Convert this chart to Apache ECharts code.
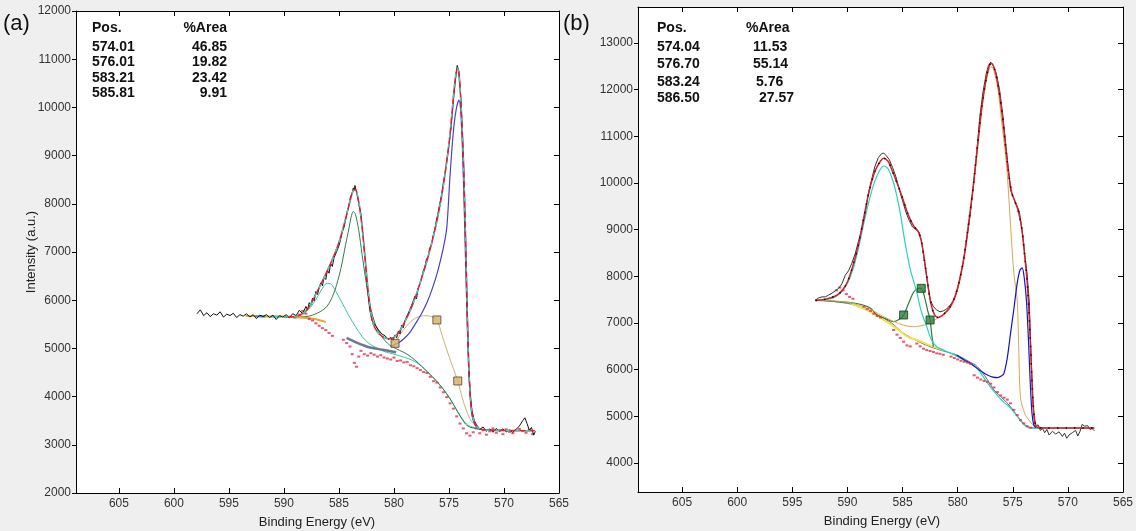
<!DOCTYPE html>
<html><head><meta charset="utf-8">
<script src="https://cdn.jsdelivr.net/npm/echarts@6/dist/echarts.min.js"></script>
<style>html,body{margin:0;padding:0;background:#efefef}#c{width:1136px;height:531px}</style>
</head><body><div id="c"></div>
<script>
// ---------- tick labels ----------
const xTicks = [565,570,575,580,585,590,595,600,605];
const yTicksA = [2000,3000,4000,5000,6000,7000,8000,9000,10000,11000,12000];
const yTicksB = [4000,5000,6000,7000,8000,9000,10000,11000,12000,13000];

// ---------- tables ----------
const posA = ['574.01','576.01','583.21','585.81'];
const areaA = ['46.85','19.82','23.42','9.91'];
const posB = ['574.04','576.70','583.24','586.50'];
const areaB = ['11.53','55.14','5.76','27.57'];

// ---------- panel (a) data [binding energy, intensity] ----------
const rawA = [[597.9,5720],[597.6,5800],[597.3,5680],[597.0,5740],[596.7,5660],[596.4,5720],[596.1,5690],[595.8,5760],[595.5,5650],[595.2,5710],[594.9,5680],[594.6,5730],[594.3,5640],[594.0,5700],[593.7,5670],[593.4,5720],[593.1,5650],[592.8,5700],[592.5,5620],[592.2,5690],[591.9,5660],[591.6,5700],[591.3,5640],[591.0,5690],[590.7,5600],[590.4,5680],[590.1,5650],[589.8,5700],[589.5,5640],[589.2,5720],[588.9,5680],[588.6,5790],[588.3,5720],[588.0,5870],[587.85,5800],[587.7,5950],[587.55,5900],[587.4,6040],[587.25,5990],[587.1,6180],[586.95,6120],[586.8,6260],[586.65,6360],[586.5,6300],[586.35,6480],[586.2,6430],[586.05,6620],[585.9,6560],[585.75,6760],[585.6,6700],[585.45,6880],[585.3,6960],[585.15,6930],[585.0,7130],[584.85,7260],[584.7,7420],[584.55,7500],[584.4,7660],[584.25,7820],[584.1,7960],[583.95,8150],[583.8,8220],[583.7,8330],[583.6,8280],[583.55,8380],[583.4,8230],[583.3,8150],[583.2,8000],[583.0,7780],[582.8,7300],[582.6,6800],[582.4,6200],[582.2,5800],[582.0,5580],[581.7,5480],[581.4,5380],[581.1,5300],[580.8,5260],[580.5,5180],[580.3,5230],[580.1,5150],[579.9,5280],[579.75,5220],[579.6,5360],[579.45,5300],[579.3,5480],[579.15,5430],[579.0,5580],[578.85,5540],[578.7,5730],[578.55,5690],[578.4,5890],[578.25,5850],[578.1,6080],[577.95,6030],[577.8,6250],[577.65,6330],[577.5,6440],[577.35,6600],[577.2,6680],[577.05,6850],[576.9,6900],[576.75,7080],[576.6,7140],[576.45,7330],[576.3,7460],[576.15,7650],[576.0,7800],[575.85,7990],[575.7,8150],[575.55,8380],[575.4,8580],[575.25,8800],[575.1,9050],[574.95,9300],[574.8,9600],[574.6,10150],[574.4,10600],[574.25,10870],[574.1,10750],[573.95,10300],[573.8,9600],[573.65,8700],[573.5,7400],[573.35,5900],[573.2,4600],[573.05,4000],[572.9,3700],[572.7,3500],[572.5,3420],[572.2,3320],[571.9,3370],[571.6,3280],[571.3,3330],[571.0,3260],[570.7,3340],[570.4,3280],[570.1,3330],[569.8,3270],[569.5,3310],[569.2,3260],[568.9,3320],[568.6,3390],[568.3,3500],[568.1,3560],[567.9,3440],[567.7,3300],[567.5,3360],[567.3,3200],[567.15,3280]];
const fitA = [[590,5650],[589,5660],[588.2,5740],[587.6,5900],[587,6170],[586.5,6400],[586,6640],[585.5,6900],[585,7200],[584.5,7600],[584,8050],[583.7,8280],[583.5,8300],[583.3,8150],[583.1,7900],[582.8,7300],[582.5,6550],[582.2,5900],[581.9,5520],[581.5,5340],[581,5240],[580.5,5200],[580,5230],[579.5,5350],[579,5560],[578.5,5800],[578,6100],[577.5,6450],[577,6820],[576.5,7250],[576,7750],[575.5,8400],[575,9250],[574.7,9950],[574.45,10550],[574.25,10820],[574.1,10700],[573.95,10250],[573.8,9550],[573.65,8650],[573.5,7350],[573.35,5850],[573.2,4600],[573.05,3980],[572.9,3650],[572.6,3420],[572.2,3330],[571,3300],[569,3295],[567.2,3290]];
const peakA574 = [[580.3,5030],[580,5070],[579.5,5130],[579,5220],[578.5,5350],[578,5530],[577.5,5720],[577,5950],[576.5,6250],[576,6620],[575.5,7100],[575.2,7500],[574.9,8600],[574.6,9500],[574.35,9950],[574.1,10150],[573.9,9800],[573.7,8600],[573.5,6900],[573.3,5200],[573.1,4100],[572.9,3600],[572.6,3400],[572.2,3320]];
const peakA576 = [[580.3,5050],[579.9,5106],[579.4,5300],[578.9,5450],[578.3,5590],[577.7,5660],[577.1,5680],[576.6,5660],[576.1,5590],[575.6,5250],[575.1,4900],[574.6,4580],[574.2,4324],[573.8,3980],[573.4,3700],[573.0,3500],[572.6,3400],[572.2,3340]];
const peakA583 = [[590,5650],[589,5650],[588,5660],[587.4,5690],[586.5,5790],[586,5900],[585.6,6070],[585.2,6330],[584.8,6680],[584.4,7150],[584.1,7480],[583.9,7720],[583.7,7840],[583.5,7780],[583.2,7450],[582.9,6950],[582.6,6480],[582.3,6050],[582,5730],[581.6,5450],[581.1,5240],[580.6,5110],[580.2,5040],[579.5,4960],[578.8,4880],[578,4740],[577,4520],[576,4290],[575,3990],[574.2,3680],[573.5,3430],[573,3360],[572,3320],[570.5,3300]];
const peakA586 = [[590,5650],[589,5660],[588.3,5700],[587.6,5850],[587,6050],[586.5,6250],[586.1,6350],[585.7,6330],[585.2,6150],[584.7,5940],[584.1,5680],[583.5,5450],[582.9,5250],[582.3,5110],[581.5,5000],[580.8,4930],[580,4880],[579,4810],[578.3,4750],[577.5,4630],[576.5,4410],[575.5,4150],[574.7,3880],[574,3610],[573.4,3430],[572.9,3370],[572,3320],[571,3300]];
const baseA = [[584.3,5216],[583.5,5130],[582.5,5040],[581.5,4990],[580.5,4950],[579.8,4920]];
const baseOrangeA = [[593.5,5672],[592.5,5668],[591.5,5662],[590.5,5660],[589.5,5658],[588.5,5640],[587.8,5630],[587.2,5610],[586.7,5580],[586.2,5550]];
const baseBlueA = [[592.6,5667],[591.7,5662]];
const baseCyanA = [[591.2,5661],[590.3,5659]];
const residA = [[589.0,5640],[588.6,5700],[588.3,5780],[588.0,5720],[587.7,5610],[587.4,5580],[587.1,5520],[586.8,5470],[586.5,5420],[586.2,5380],[585.9,5320],[585.6,5260],[584.6,5180],[584.3,5110],[584.0,5040],[583.8,4880],[583.6,4700],[583.4,4620],[583.2,4830],[583.0,4950],[582.7,4880],[582.4,4850],[582.1,4900],[581.8,4870],[581.5,4830],[581.2,4860],[580.9,4810],[580.6,4790],[580.3,4770],[580.0,4810],[579.7,4740],[579.4,4750],[579.1,4710],[578.8,4720],[578.5,4650],[578.2,4630],[577.9,4590],[577.6,4550],[577.3,4510],[577.0,4490],[576.7,4410],[576.4,4320],[576.1,4290],[575.8,4190],[575.5,4090],[575.2,3990],[574.9,3860],[574.6,3750],[574.3,3590],[574.0,3440],[573.7,3340],[573.4,3240],[573.1,3190],[572.8,3260],[572.5,3340],[572.2,3240],[571.9,3300],[571.6,3210],[571.3,3280],[571.0,3340],[570.7,3250],[570.4,3300],[570.1,3220],[569.8,3320],[569.5,3270],[569.2,3240],[568.9,3300],[568.6,3330],[568.3,3290],[568.0,3250],[567.7,3310],[567.4,3220]];
const marksA = [[579.9,5106],[576.1,5590],[574.2,4324]];

// ---------- panel (b) data ----------
const rawB = [[592.9,7490],[592.6,7540],[592.3,7560],[592.0,7560],[591.7,7600],[591.4,7640],[591.1,7690],[590.8,7740],[590.5,7840],[590.2,8020],[589.9,8120],[589.6,8280],[589.3,8480],[589.0,8750],[588.7,9000],[588.4,9350],[588.1,9780],[587.8,10080],[587.5,10360],[587.2,10540],[586.9,10630],[586.7,10640],[586.5,10590],[586.2,10500],[585.9,10330],[585.6,10130],[585.3,9870],[585.0,9620],[584.7,9380],[584.4,9200],[584.1,9060],[583.8,9000],[583.5,8950],[583.3,8780],[583.1,8480],[582.9,8150],[582.7,7800],[582.5,7500],[582.2,7350],[581.9,7280],[581.6,7240],[581.3,7260],[581.0,7300],[580.7,7380],[580.4,7470],[580.1,7650],[579.8,7950],[579.5,8300],[579.2,8750],[578.9,9250],[578.6,9900],[578.3,10550],[578.0,11400],[577.7,11950],[577.4,12350],[577.2,12520],[577.0,12590],[576.8,12520],[576.5,12350],[576.2,12000],[575.9,11450],[575.6,10750],[575.35,10200],[575.2,9850],[575.0,9720],[574.7,9560],[574.4,9380],[574.1,8900],[573.9,8450],[573.7,8050],[573.5,7450],[573.35,6400],[573.2,5400],[573.05,4900],[572.9,4780],[572.7,4820],[572.5,4700],[572.3,4740],[572.1,4650],[571.9,4720],[571.7,4600],[571.4,4680],[571.1,4620],[570.8,4670],[570.5,4570],[570.3,4640],[570.1,4530],[569.9,4600],[569.6,4650],[569.3,4700],[569.1,4580],[568.9,4680],[568.7,4830],[568.5,4790],[568.2,4800],[568.0,4720],[567.8,4740],[567.6,4690]];
const fitB = [[592.9,7480],[592,7510],[591,7590],[590.5,7690],[590,7880],[589.5,8230],[589,8680],[588.5,9280],[588,9850],[587.5,10250],[587,10470],[586.7,10530],[586.3,10460],[586,10300],[585.5,10000],[585,9680],[584.5,9330],[584,9080],[583.6,8970],[583.3,8760],[583,8320],[582.7,7820],[582.4,7390],[582.1,7180],[581.8,7120],[581.4,7160],[581,7250],[580.6,7380],[580.2,7600],[579.8,7950],[579.4,8450],[579,9150],[578.6,9900],[578.2,10800],[577.8,11650],[577.4,12250],[577.1,12530],[576.9,12560],[576.6,12400],[576.3,12050],[576,11550],[575.7,10900],[575.4,10250],[575.1,9800],[574.8,9600],[574.5,9400],[574.2,9050],[573.9,8400],[573.7,7900],[573.5,7100],[573.3,6000],[573.1,5100],[572.9,4800],[572.7,4760],[572,4750],[570,4750],[567.6,4750]];
const peakB586 = [[592.9,7490],[592,7500],[591.5,7520],[591,7580],[590.5,7680],[590,7850],[589.5,8150],[589,8600],[588.5,9150],[588,9650],[587.5,10050],[587,10300],[586.7,10364],[586.3,10300],[585.8,9990],[585.5,9700],[585.2,9350],[584.9,8900],[584.6,8500],[584.3,8150],[584,7900],[583.7,7650],[583.3,7250],[582.8,6921],[582.4,6650],[581.9,6493],[581.3,6420],[580.6,6350],[580,6280],[579.4,6200],[578.8,6120],[578.2,6020],[577.6,5820],[577,5620],[576.4,5450],[575.8,5300],[575.2,5180],[574.6,5000],[574.2,4880],[573.8,4790],[573.4,4750],[572.5,4750]];
const peakB577 = [[592.9,7490],[591,7470],[589.5,7420],[587.9,7290],[586.5,7110],[585,6960],[584,6921],[583,6960],[582.2,7050],[581.5,7150],[581,7230],[580.6,7350],[580.2,7560],[579.8,7900],[579.4,8400],[579,9100],[578.6,9850],[578.2,10700],[577.8,11550],[577.4,12200],[577.1,12460],[576.9,12490],[576.6,12300],[576.3,11950],[576,11300],[575.7,10700],[575.5,10200],[575.2,9100],[574.9,8065],[574.6,7493],[574.45,6400],[574.3,5400],[573.9,5050],[573.6,4943],[573.1,4800],[572.7,4760]];
const peakB574 = [[580.1,6315],[579.4,6210],[578.8,6130],[578,5990],[577.3,5886],[576.8,5840],[576.4,5829],[576,5870],[575.8,5922],[575.5,6250],[575.2,6779],[574.9,7300],[574.6,7850],[574.35,8130],[574.15,8180],[573.95,7950],[573.75,7450],[573.55,6500],[573.4,5650],[573.25,5050],[573.1,4820],[572.9,4760]];
const peakB583 = [[592.9,7490],[591,7460],[589.4,7429],[588.5,7380],[587.9,7315],[587.3,7172],[586.5,7090],[585.8,7029],[585.3,7080],[584.9,7172],[584.4,7450],[584,7660],[583.6,7740],[583.3,7743],[583,7550],[582.7,7250],[582.5,7065],[582.35,6750],[582.2,6493]];
const baseB = [[592.9,7490],[591.5,7470],[590,7420],[589.4,7386],[588,7250],[587,7136],[586,7000],[584.9,6779],[583.7,6620],[582.5,6493],[581.3,6400],[580.1,6315],[579,6180],[578.2,6064],[577.4,5820],[576.7,5565],[575.9,5380],[575.2,5207],[574.3,4922],[573.8,4800],[573.45,4760],[572.5,4750],[570,4750],[567.6,4750]];
const baseYellowB = [[589.7,7420],[588,7250],[586,6960],[584.5,6700],[583.7,6636],[582.5,6520],[581.3,6422]];
const residB = [[591.0,7700],[590.7,7760],[590.4,7700],[590.1,7620],[589.8,7560],[589.5,7520],[588.5,7350],[588.2,7300],[587.9,7260],[587.6,7200],[587.3,7150],[587.0,7120],[585.8,6850],[585.5,6750],[585.2,6680],[584.9,6600],[584.6,6520],[584.3,6500],[583.7,6560],[583.4,6500],[583.1,6450],[582.8,6420],[582.5,6400],[582.2,6380],[581.9,6350],[581.6,6340],[581.3,6320],[580.6,6280],[580.3,6250],[580.0,6220],[579.7,6190],[579.4,6170],[579.1,6150],[578.8,6120],[578.5,5880],[578.2,5830],[577.9,5790],[577.6,5760],[577.3,5740],[577.0,5700],[576.7,5620],[576.4,5520],[576.1,5450],[575.8,5400],[575.5,5360],[575.2,5280],[574.9,5140],[574.6,5030],[574.3,4920],[574.0,4850],[573.7,4790],[573.4,4760]];
const marksB = [[584.9,7172],[583.3,7743],[582.5,7065]];

// ---------- build chart ----------
const FONT = '"Liberation Sans", Arial, sans-serif';
function xAx(gi, max, pos){
  return {gridIndex:gi, type:'value', inverse:true, min:565, max:max, position:pos,
    axisLine:{show:true, onZero:false, lineStyle:{color:'#000', width:1}},
    axisTick:{show:true, inside:true, length:5, customValues:xTicks, lineStyle:{color:'#000'}},
    axisLabel:{show:pos==='bottom', customValues:xTicks, margin:5, color:'#333', fontSize:12, fontFamily:FONT,
      formatter:function(v){return String(v);}},
    splitLine:{show:false}};
}
function yAx(gi, min, max, ticks, pos){
  return {gridIndex:gi, type:'value', min:min, max:max, position:pos,
    axisLine:{show:true, onZero:false, lineStyle:{color:'#000', width:1}},
    axisTick:{show:true, inside:pos==='right', length:pos==='right'?5:4, customValues:ticks, lineStyle:{color:'#000'}},
    axisLabel:{show:pos==='left', customValues:ticks, margin:5, color:'#333', fontSize:12, fontFamily:FONT,
      formatter:function(v){return String(v);}},
    splitLine:{show:false}};
}
function line(data, ax, color, width, opts){
  opts = opts || {};
  return {type:'line', data:data, xAxisIndex:ax, yAxisIndex:ax, showSymbol:false, symbol:'none',
    smooth:opts.smooth||false, silent:true, z:opts.z||2,
    lineStyle:{color:color, width:width, type:opts.type||'solid'}};
}
function dots(data, ax, color){
  return {type:'scatter', data:data, xAxisIndex:ax, yAxisIndex:ax, symbol:'rect', symbolSize:[3,2],
    itemStyle:{color:color}, silent:true, z:2};
}
function squares(data, ax, fill, border){
  return {type:'scatter', data:data, xAxisIndex:ax, yAxisIndex:ax, symbol:'rect', symbolSize:8,
    itemStyle:{color:fill, borderColor:border, borderWidth:1}, silent:true, z:6};
}

const series = [
  // panel a (axes index 0)
  line(peakA586, 0, '#3cc4a4', 1, {smooth:0.3}),
  line(peakA583, 0, '#2e7d4a', 1, {smooth:0.3}),
  line(peakA576, 0, '#c9b27a', 1, {smooth:0.3}),
  line(baseA, 0, '#6a7894', 2.5, {smooth:0.3}),
  line(baseOrangeA, 0, '#f2a51e', 2, {smooth:0.3}),
  line(baseBlueA, 0, '#3a8fe0', 2),
  line(baseCyanA, 0, '#36d0d0', 2),
  dots(residA, 0, '#e0304a'),
  line(peakA574, 0, '#4a3fd0', 1.2, {smooth:0.3}),
  line(rawA, 0, '#111', 1, {z:3}),
  line(fitA, 0, '#e4202e', 1.5, {smooth:0.3, z:4}),
  line(fitA, 0, '#2ad6c8', 1.5, {smooth:0.3, z:5, type:[4,6]}),
  squares(marksA, 0, '#d9b06a', '#5a4020'),
  // panel b (axes index 2)
  line(baseB, 2, '#5f7070', 1, {smooth:0.3}),
  line(baseYellowB, 2, '#f2e24a', 2, {smooth:0.3}),
  dots(residB, 2, '#e0304a'),
  line(peakB583, 2, '#2a7a3a', 1.2, {smooth:0.3}),
  line(peakB577, 2, '#dda653', 1, {smooth:0.3}),
  line(peakB586, 2, '#2ad0c0', 1.2, {smooth:0.3}),
  line(peakB574, 2, '#1414c8', 1.2, {smooth:0.3}),
  line(rawB, 2, '#333', 1, {z:3}),
  line(fitB, 2, '#d8202e', 1.5, {smooth:0.3, z:4}),
  line(fitB, 2, '#111', 1.5, {smooth:0.3, z:5, type:[1.5,7]}),
  squares(marksB, 2, '#2f7d3a', '#0d3d15')
];

const graphics = [];
function txt(x, y, text, font, align, color){
  graphics.push({type:'text', silent:true, style:{x:x, y:y, text:text, font:font, fill:color||'#111',
    textAlign:align||'left', textVerticalAlign:'middle'}});
}
const TFONT = 'bold 14px ' + FONT;
txt(3, 24, '(a)', '22px ' + FONT, 'left', '#111');
txt(563, 24, '(b)', '22px ' + FONT, 'left', '#111');
txt(92, 28, 'Pos.', TFONT); txt(227, 28, '%Area', TFONT, 'right');
const rowYA = [47, 62, 78, 93];
posA.forEach((p,i)=>{ txt(92, rowYA[i], p, TFONT); txt(227, rowYA[i], areaA[i], TFONT, 'right'); });
txt(657, 28, 'Pos.', TFONT); txt(746, 28, '%Area', TFONT);
const rowYB = [47, 64, 82, 98];
const areaXB = [753, 753, 756, 759];
posB.forEach((p,i)=>{ txt(657, rowYB[i], p, TFONT); txt(areaXB[i], rowYB[i], areaB[i], TFONT); });
txt(317, 522, 'Binding Energy (eV)', '13px ' + FONT, 'center', '#222');
txt(882, 521, 'Binding Energy (eV)', '13px ' + FONT, 'center', '#222');
graphics.push({type:'text', silent:true, x:31, y:252, rotation:Math.PI/2,
  style:{x:0, y:0, text:'Intensity (a.u.)', font:'13px ' + FONT, fill:'#222', textAlign:'center', textVerticalAlign:'middle'}});

const chart = echarts.init(document.getElementById('c'), null, {renderer:'canvas'});
chart.setOption({
  animation:false,
  backgroundColor:'#efefef',
  grid:[
    {left:76, top:11, width:483, height:482, show:true, backgroundColor:'#fff', borderWidth:0},
    {left:638, top:7, width:485, height:485, show:true, backgroundColor:'#fff', borderWidth:0}
  ],
  xAxis:[xAx(0,608.9,'bottom'), xAx(0,608.9,'top'), xAx(1,609,'bottom'), xAx(1,609,'top')],
  yAxis:[yAx(0,2000,12000,yTicksA,'left'), yAx(0,2000,12000,yTicksA,'right'),
         yAx(1,3380,13770,yTicksB,'left'), yAx(1,3380,13770,yTicksB,'right')],
  series:series,
  graphic:graphics
});
</script>
</body></html>
